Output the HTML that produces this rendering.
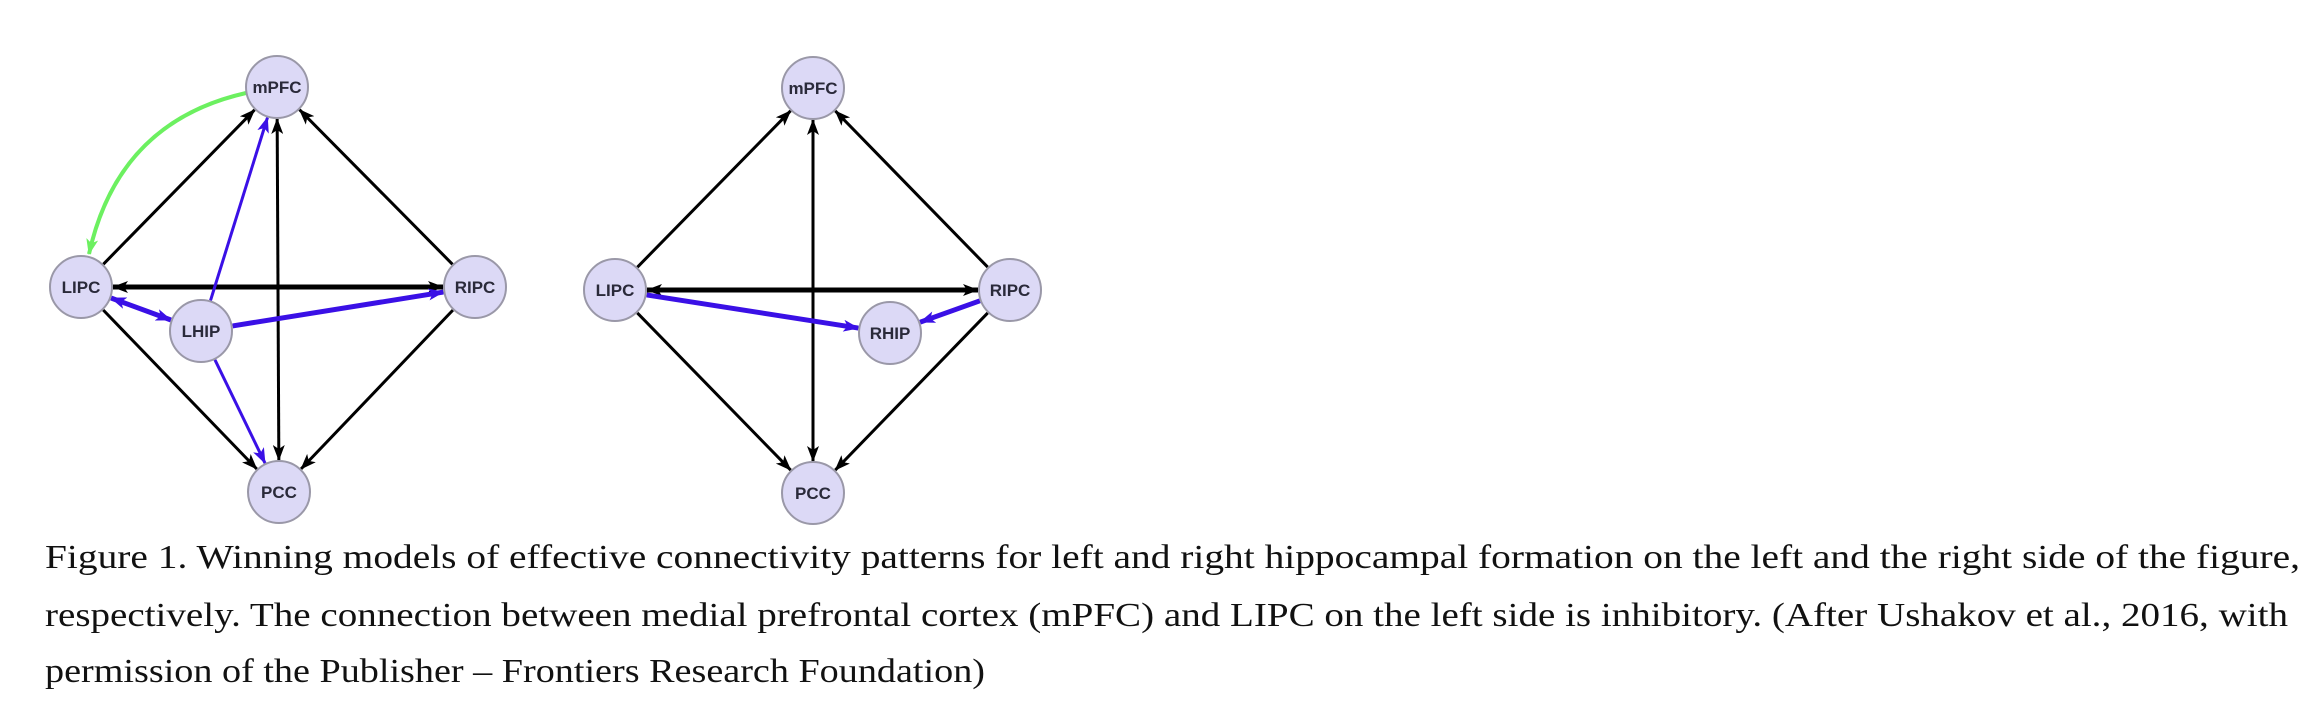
<!DOCTYPE html>
<html><head><meta charset="utf-8"><style>
html,body{margin:0;padding:0;background:#fff;width:2322px;height:726px;overflow:hidden}
svg{display:block}
</style></head><body>
<svg id="s" width="2322" height="726" xmlns="http://www.w3.org/2000/svg">
<defs>
<marker id="ak" markerUnits="userSpaceOnUse" markerWidth="16" markerHeight="12" refX="15" refY="6" orient="auto-start-reverse"><path d="M0,0 L16,6 L0,12 L4,6 z" fill="#000"/></marker>
<marker id="ab" markerUnits="userSpaceOnUse" markerWidth="16" markerHeight="12" refX="15" refY="6" orient="auto-start-reverse"><path d="M0,0 L16,6 L0,12 L4,6 z" fill="#3a10e6"/></marker>
<marker id="ag" markerUnits="userSpaceOnUse" markerWidth="16" markerHeight="12" refX="15" refY="6" orient="auto-start-reverse"><path d="M0,0 L16,6 L0,12 L4,6 z" fill="#6cf060"/></marker>
</defs>
<g id="edges"></g>
<path d="M246,93 Q118,122 89,254" fill="none" stroke="#6cf060" stroke-width="4" marker-end="url(#ag)"/>
<g id="nodes"></g>
<g font-family="'Liberation Serif', serif" font-size="34" fill="#111">
<text x="45" y="568" textLength="2255" lengthAdjust="spacingAndGlyphs">Figure 1. Winning models of effective connectivity patterns for left and right hippocampal formation on the left and the right side of the figure,</text>
<text x="45" y="626" textLength="2243" lengthAdjust="spacingAndGlyphs">respectively. The connection between medial prefrontal cortex (mPFC) and LIPC on the left side is inhibitory. (After Ushakov et al., 2016, with</text>
<text x="45" y="682" textLength="940" lengthAdjust="spacingAndGlyphs">permission of the Publisher – Frontiers Research Foundation)</text>
</g>
</svg>
<script>
var N={
 m1:[277,87],l1:[81,287],r1:[475,287],h1:[201,331],p1:[279,492],
 m2:[813,88],l2:[615,290],r2:[1010,290],h2:[890,333],p2:[813,493]};
var lab={m1:"mPFC",l1:"LIPC",r1:"RIPC",h1:"LHIP",p1:"PCC",m2:"mPFC",l2:"LIPC",r2:"RIPC",h2:"RHIP",p2:"PCC"};
var R=31;
var E=[
 ["l1","m1","k",3,0],["r1","m1","k",3,0],["p1","m1","k",3,1],["l1","r1","k",5,1],["l1","p1","k",3,0],["r1","p1","k",3,0],
 ["h1","m1","b",3,0],["h1","l1","b",5,1],["h1","r1","b",5,0],["h1","p1","b",3,0],
 ["l2","m2","k",3,0],["r2","m2","k",3,0],["p2","m2","k",3,1],["l2","r2","k",5,1],["l2","p2","k",3,0],["r2","p2","k",3,0],
 ["l2","h2","b",5,0],["r2","h2","b",5,0]];
var ns="http://www.w3.org/2000/svg",eg=document.getElementById("edges"),ng=document.getElementById("nodes");
E.forEach(function(e){
 var a=N[e[0]],b=N[e[1]],dx=b[0]-a[0],dy=b[1]-a[1],d=Math.hypot(dx,dy),ux=dx/d,uy=dy/d;
 var l=document.createElementNS(ns,"line");
 l.setAttribute("x1",a[0]+ux*(R+1));l.setAttribute("y1",a[1]+uy*(R+1));
 l.setAttribute("x2",b[0]-ux*(R+1));l.setAttribute("y2",b[1]-uy*(R+1));
 l.setAttribute("stroke",e[2]=="k"?"#000":"#3a10e6");l.setAttribute("stroke-width",e[3]);
 l.setAttribute("marker-end","url(#a"+e[2]+")");
 if(e[4])l.setAttribute("marker-start","url(#a"+e[2]+")");
 eg.appendChild(l);
});
for(var k in N){
 var c=document.createElementNS(ns,"circle");
 c.setAttribute("cx",N[k][0]);c.setAttribute("cy",N[k][1]);c.setAttribute("r",R);
 c.setAttribute("fill","#dcd9f6");c.setAttribute("stroke","#9a98a8");c.setAttribute("stroke-width","2");
 ng.appendChild(c);
 var t=document.createElementNS(ns,"text");
 t.setAttribute("x",N[k][0]);t.setAttribute("y",N[k][1]+6);t.setAttribute("text-anchor","middle");
 t.setAttribute("font-family","'Liberation Sans', sans-serif");t.setAttribute("font-weight","bold");
 t.setAttribute("font-size","17");t.setAttribute("fill","#2a2a3a");t.textContent=lab[k];
 ng.appendChild(t);
}
</script>
</body></html>
